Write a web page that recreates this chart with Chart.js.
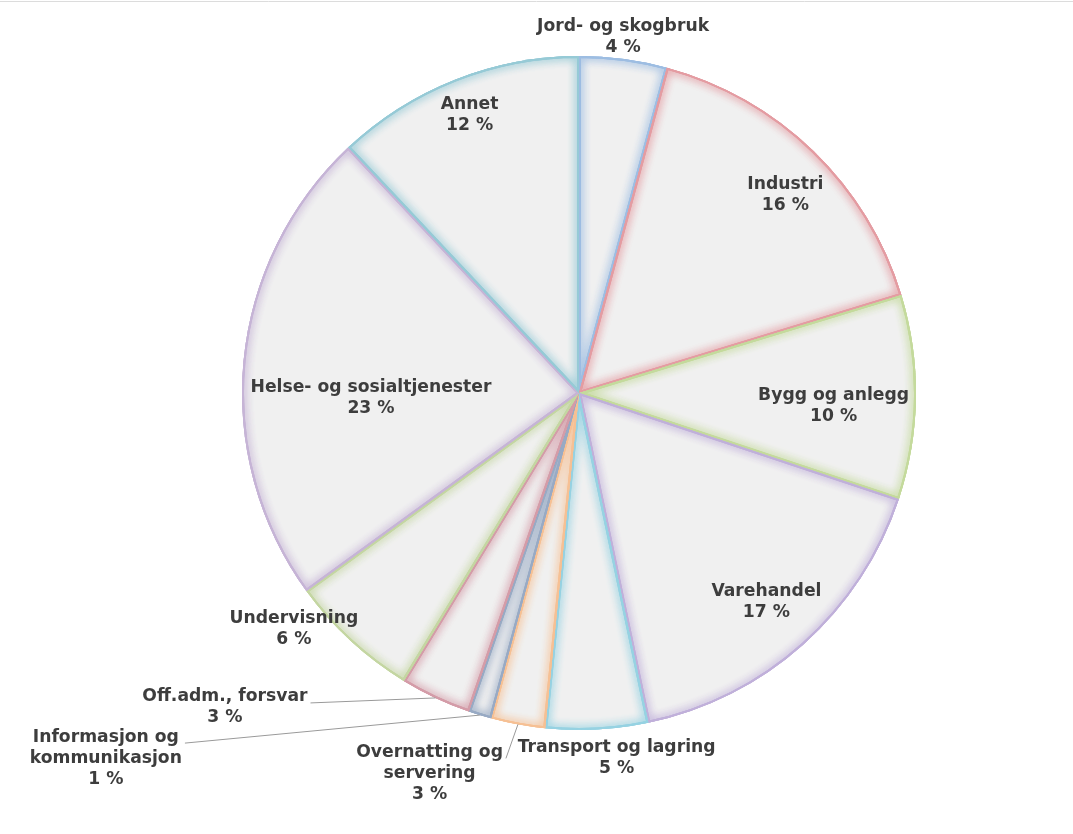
<!DOCTYPE html>
<html>
<head>
<meta charset="utf-8">
<script src="https://cdn.jsdelivr.net/npm/chart.js@4.4.0/dist/chart.umd.min.js"></script>
<style>
  html, body { margin: 0; padding: 0; background: #fff; }
</style>
</head>
<body>
<canvas id="sectorChart" width="1073" height="834"></canvas>
<script>
// Sysselsatte etter næring (andel i prosent)
var categories = ['Jord- og skogbruk', 'Industri', 'Bygg og anlegg', 'Varehandel', 'Transport og lagring',
  'Overnatting og servering', 'Informasjon og kommunikasjon', 'Off.adm., forsvar', 'Undervisning',
  'Helse- og sosialtjenester', 'Annet'];
var shares = [4.2, 16.1, 9.8, 16.6, 4.9, 2.6, 1.1, 3.4, 6.3, 23.0, 12.0];

// border / glow colour per slice
var edgeColors = ['#9dbde2', '#e49ca2', '#c4da9c', '#c0b0da', '#96d2e2', '#f6c094',
  '#98aac4', '#d49ca8', '#c4d6a2', '#c6b4d6', '#96cad6'];

// label placement: inside the slice, just outside, or with a leader line
var labelLayout = [
  {mode: 'outside', dx: -5, dy: 14},
  {mode: 'inside', dx: 7, dy: 8},
  {mode: 'inside', dx: 0, dy: 9},
  {mode: 'inside', dx: 9, dy: -5},
  {mode: 'outside', dx: 18, dy: -2},
  {mode: 'line', dx: -12, dy: 34},
  {mode: 'line', dx: -295, dy: 28},
  {mode: 'line', dx: -125, dy: 5},
  {mode: 'outside', dx: -14, dy: -58},
  {mode: 'inside', dx: -1, dy: 32},
  {mode: 'inside', dx: -4, dy: -12}
];

var labelFont = 'bold 17.2px "DejaVu Sans", Verdana, sans-serif';
var lineHeight = 21;

var frameLine = {
  id: 'frameLine',
  beforeDraw: function(chart) {
    var ctx = chart.ctx;
    ctx.save();
    ctx.strokeStyle = '#dcdcdc';
    ctx.lineWidth = 1;
    ctx.beginPath();
    ctx.moveTo(0, 1.5);
    ctx.lineTo(chart.width, 1.5);
    ctx.stroke();
    ctx.restore();
  }
};

// soft coloured inner edge on every slice
var innerGlow = {
  id: 'innerGlow',
  afterDatasetsDraw: function(chart) {
    var ctx = chart.ctx;
    var meta = chart.getDatasetMeta(0);
    meta.data.forEach(function(arc, i) {
      var p = arc.getProps(['x', 'y', 'startAngle', 'endAngle', 'outerRadius'], true);
      ctx.save();
      ctx.beginPath();
      ctx.moveTo(p.x, p.y);
      ctx.arc(p.x, p.y, p.outerRadius, p.startAngle, p.endAngle);
      ctx.closePath();
      ctx.clip();
      ctx.strokeStyle = edgeColors[i];
      ctx.shadowColor = edgeColors[i];
      ctx.shadowBlur = 10;
      ctx.lineWidth = 4;
      ctx.stroke();
      ctx.stroke();
      ctx.shadowBlur = 0;
      ctx.lineWidth = 3.5;
      ctx.stroke();
      ctx.restore();
    });
  }
};

function wrapText(ctx, text, maxWidth) {
  var words = text.split(' ');
  var lines = [];
  var cur = '';
  words.forEach(function(w) {
    var test = cur ? cur + ' ' + w : w;
    if (cur && ctx.measureText(test).width > maxWidth) {
      lines.push(cur);
      cur = w;
    } else {
      cur = test;
    }
  });
  if (cur) lines.push(cur);
  return lines;
}

var sliceLabels = {
  id: 'sliceLabels',
  afterDraw: function(chart) {
    var ctx = chart.ctx;
    var meta = chart.getDatasetMeta(0);
    var total = shares.reduce(function(a, b) { return a + b; }, 0);
    ctx.save();
    ctx.font = labelFont;
    ctx.textAlign = 'center';
    ctx.textBaseline = 'middle';
    meta.data.forEach(function(arc, i) {
      var p = arc.getProps(['x', 'y', 'startAngle', 'endAngle', 'outerRadius'], true);
      var r = p.outerRadius;
      var mid = (p.startAngle + p.endAngle) / 2;
      var cos = Math.cos(mid), sin = Math.sin(mid);
      var edgeX = p.x + cos * r, edgeY = p.y + sin * r;
      var lay = labelLayout[i];

      var lines = lay.mode === 'inside' ? [categories[i]] : wrapText(ctx, categories[i], 215);
      lines.push(Math.round(shares[i] / total * 100) + ' %');
      var w = Math.max.apply(null, lines.map(function(t) { return ctx.measureText(t).width; }));
      var h = lines.length * lineHeight;
      var cx, cy;

      if (lay.mode === 'inside') {
        cx = p.x + cos * r * 0.85;
        cy = p.y + sin * r * 0.85;
        // keep the text box inside the circle
        var dyMax = Math.abs(cy - p.y) + h / 2;
        var half = Math.sqrt(Math.pow(r - 6, 2) - dyMax * dyMax);
        if (cx + w / 2 > p.x + half) cx = p.x + half - w / 2;
        if (cx - w / 2 < p.x - half) cx = p.x - half + w / 2;
        cx += lay.dx; cy += lay.dy;
      } else if (lay.mode === 'outside') {
        var off = w / 2 * Math.abs(cos) + h / 2 * Math.abs(sin) + 4;
        cx = edgeX + cos * off + lay.dx;
        cy = edgeY + sin * off + lay.dy;
      } else {
        var endX = edgeX + lay.dx, endY = edgeY + lay.dy;
        ctx.strokeStyle = '#9a9a9a';
        ctx.lineWidth = 1;
        ctx.beginPath();
        ctx.moveTo(edgeX, edgeY);
        ctx.lineTo(endX, endY);
        ctx.stroke();
        cx = endX - 3 - w / 2;
        cy = endY - 6 - lineHeight / 2 + h / 2;
      }

      ctx.fillStyle = '#3d3d3d';
      lines.forEach(function(t, k) {
        ctx.fillText(t, cx, cy - h / 2 + lineHeight * (k + 0.5));
      });
    });
    ctx.restore();
  }
};

var ctx = document.getElementById('sectorChart').getContext('2d');
var sectorChart = new Chart(ctx, {
  type: 'pie',
  data: {
    labels: categories,
    datasets: [{
      data: shares,
      backgroundColor: '#f0f0f0',
      borderWidth: 0
    }]
  },
  options: {
    responsive: false,
    animation: false,
    radius: 337,
    layout: {
      padding: {left: 85, right: 0, top: 0, bottom: 48}
    },
    plugins: {
      legend: {display: false},
      tooltip: {enabled: false}
    }
  },
  plugins: [frameLine, innerGlow, sliceLabels]
});
</script>
</body>
</html>
